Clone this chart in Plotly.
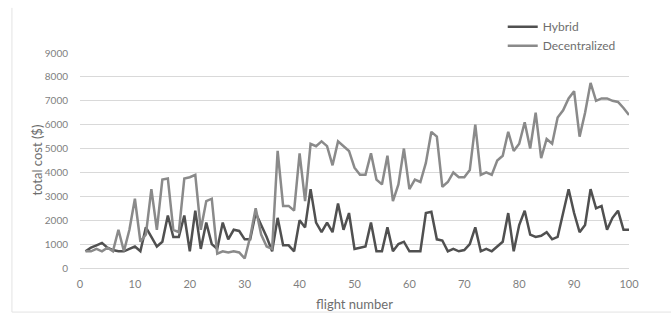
import plotly.graph_objects as go

flights = list(range(1, 101))

hybrid = [700, 850, 950, 1050, 850, 750, 700, 700, 800, 900,
          700, 1700, 1300, 900, 1100, 2200, 1300, 1300, 2200, 700,
          2400, 800, 1900, 1000, 800, 1900, 1200, 1600, 1550, 1200,
          1200, 2300, 1800, 1300, 700, 2100, 950, 950, 700, 2000,
          1700, 3300, 1900, 1500, 1900, 1500, 2700, 1600, 2300, 800,
          850, 900, 1900, 700, 700, 1700, 700, 1000, 1100, 700,
          700, 700, 2300, 2350, 1200, 1150, 700, 800, 700, 750,
          1000, 1700, 700, 800, 700, 900, 1100, 2300, 700, 1800,
          2400, 1400, 1300, 1350, 1500, 1200, 1300, 2300, 3300, 2300,
          1500, 1800, 3300, 2500, 2600, 1600, 2100, 2400, 1600, 1600]

decentralized = [700, 700, 800, 700, 850, 700, 1600, 700, 1600, 2900,
                 1100, 1400, 3300, 1600, 3700, 3750, 1600, 1500, 3750, 3800,
                 3900, 1600, 2800, 2900, 600, 700, 650, 700, 650, 400,
                 1300, 2500, 1400, 900, 800, 4900, 2600, 2600, 2400, 4800,
                 2800, 5200, 5100, 5300, 5100, 4300, 5300, 5100, 4900, 4200,
                 3900, 3900, 4800, 3700, 3500, 4700, 2800, 3500, 5000, 3300,
                 3700, 3600, 4400, 5700, 5500, 3400, 3600, 4000, 3800, 3800,
                 4100, 6000, 3900, 4000, 3900, 4500, 4700, 5700, 4900, 5200,
                 6100, 5000, 6500, 4600, 5400, 5200, 6300, 6600, 7100, 7400,
                 5500, 6500, 7750, 7000, 7100, 7100, 7000, 6950, 6700, 6400]

x_ticks = list(range(0, 101, 10))
y_ticks = list(range(0, 9001, 1000))

font_family = "Lato, Open Sans, sans-serif"
tick_grey = "#7f7f7f"
title_grey = "#6e6e6e"

fig = go.Figure()
fig.add_trace(go.Scatter(x=flights, y=hybrid, mode="lines", name="Hybrid",
                         line=dict(color="#505050", width=2.5)))
fig.add_trace(go.Scatter(x=flights, y=decentralized, mode="lines", name="Decentralized",
                         line=dict(color="#8a8a8a", width=2.5)))

fig.update_layout(
    width=671, height=320,
    margin=dict(l=80, r=42, t=46, b=52),
    paper_bgcolor="white", plot_bgcolor="white",
    font=dict(family=font_family, color=tick_grey, size=11),
    showlegend=True,
    legend=dict(x=0.77, y=1.19, xanchor="left", yanchor="top",
                bgcolor="rgba(0,0,0,0)", font=dict(size=12, color=title_grey),
                tracegroupgap=0, itemwidth=30),
    xaxis=dict(range=[0, 100], tickvals=x_ticks, showgrid=False,
               showline=True, linecolor="#d9d9d9", linewidth=1,
               ticks="", zeroline=False, ticklabelstandoff=6,
               title=dict(text="flight number", font=dict(size=13, color=title_grey), standoff=10)),
    yaxis=dict(range=[0, 9000], tickvals=y_ticks, showgrid=True,
               gridcolor="#d9d9d9", gridwidth=1, zeroline=False,
               ticks="", ticklabelstandoff=11, tickfont=dict(size=10)),
    annotations=[
        dict(text="total cost ($)", xref="paper", yref="paper", x=-0.08, y=0.5,
             xanchor="center", yanchor="middle", textangle=-90, showarrow=False,
             font=dict(size=13, color=title_grey)),
    ],
    shapes=[
        dict(type="line", xref="paper", yref="paper", x0=-0.124, x1=-0.124,
             y0=-0.205, y1=1.21, line=dict(color="#e3e3e3", width=1)),
        dict(type="line", xref="paper", yref="paper", x0=-0.124, x1=1.08,
             y0=-0.205, y1=-0.205, line=dict(color="#e3e3e3", width=1)),
    ],
)

fig.write_html("out.html")
